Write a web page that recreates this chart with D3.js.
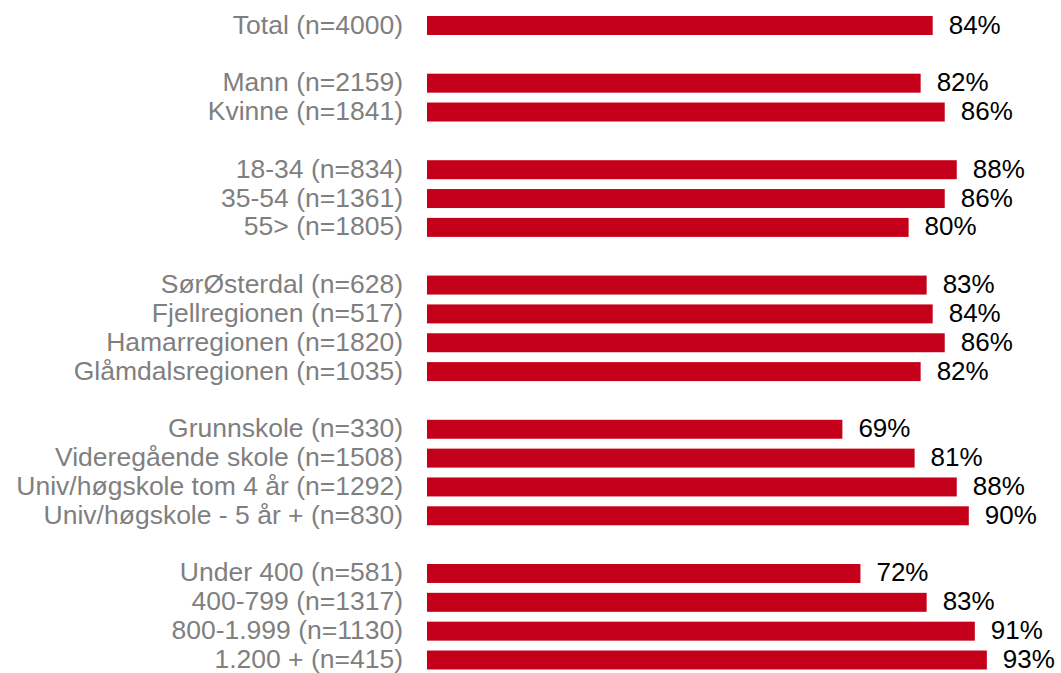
<!DOCTYPE html>
<html>
<head>
<meta charset="utf-8">
<script src="https://cdn.jsdelivr.net/npm/d3@7"></script>
<style>
  html, body { margin: 0; padding: 0; background: #fff; }
  svg { display: block; }
</style>
</head>
<body>
<svg id="chart" width="1061" height="673"></svg>
<script>
const categories = [
  "Total (n=4000)",
  "Mann (n=2159)", "Kvinne (n=1841)",
  "18-34 (n=834)", "35-54 (n=1361)", "55> (n=1805)",
  "SørØsterdal (n=628)", "Fjellregionen (n=517)", "Hamarregionen (n=1820)", "Glåmdalsregionen (n=1035)",
  "Grunnskole (n=330)", "Videregående skole (n=1508)", "Univ/høgskole tom 4 år (n=1292)", "Univ/høgskole - 5 år + (n=830)",
  "Under 400 (n=581)", "400-799 (n=1317)", "800-1.999 (n=1130)", "1.200 + (n=415)"
];
const values = [84, 82, 86, 88, 86, 80, 83, 84, 86, 82, 69, 81, 88, 90, 72, 83, 91, 93];
const groupSizes = [1, 2, 3, 4, 4, 4];

// build slots: groups separated by blank slots
const slots = [];
let k = 0;
groupSizes.forEach((n, gi) => {
  if (gi > 0) slots.push({ key: "gap" + gi, blank: true });
  for (let j = 0; j < n; j++, k++) {
    slots.push({ key: "c" + k, label: categories[k], value: values[k] });
  }
});

const svg = d3.select("#chart");
const yFirst = 25.5, yLast = 660;
const step = (yLast - yFirst) / (slots.length - 1);
const y = d3.scaleBand()
  .domain(slots.map(d => d.key))
  .range([yFirst - step / 2, yLast + step / 2])
  .paddingInner(0.342)
  .paddingOuter(0.171);

const x = d3.scaleLinear().domain([0, 100]).range([427, 1029]);

const rows = slots.filter(d => !d.blank);

svg.append("g").selectAll("rect")
  .data(rows)
  .join("rect")
  .attr("x", x(0))
  .attr("y", d => y(d.key))
  .attr("width", d => x(d.value) - x(0))
  .attr("height", y.bandwidth())
  .attr("fill", "#c5001a");

svg.append("g").selectAll("text")
  .data(rows)
  .join("text")
  .attr("x", 403)
  .attr("y", d => y(d.key) + y.bandwidth() / 2 + 8)
  .attr("text-anchor", "end")
  .attr("font-family", "Liberation Sans, Arial, sans-serif")
  .attr("font-size", 26.5)
  .attr("fill", "#7f7f7f")
  .text(d => d.label);

svg.append("g").selectAll("text")
  .data(rows)
  .join("text")
  .attr("x", d => x(d.value) + 16)
  .attr("y", d => y(d.key) + y.bandwidth() / 2 + 8)
  .attr("font-family", "Liberation Sans, Arial, sans-serif")
  .attr("font-size", 26)
  .attr("fill", "#000")
  .text(d => d.value + "%");
</script>
</body>
</html>
